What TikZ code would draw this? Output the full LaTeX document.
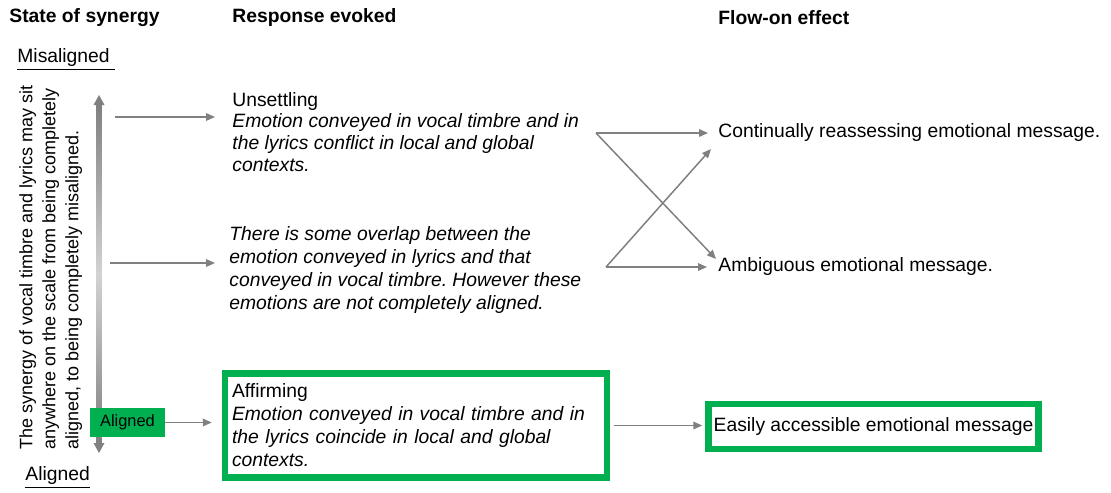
\documentclass[tikz,border=0pt]{standalone}
\usepackage{fontspec}
\setmainfont{Liberation Sans}
\frenchspacing
\definecolor{synergygreen}{RGB}{0, 176, 80}
\definecolor{arrowgray}{RGB}{128, 128, 128}
\usetikzlibrary{
  arrows.meta,
  calc,
  positioning,
}
\tikzset{
  >={Triangle[length=4.5pt,width=3.8pt]},
  link/.style={draw=arrowgray, line width=0.75pt, ->},
  txt/.style={inner sep=0, font=\fontsize{9.65}{10.8}\selectfont},
  head/.style={inner sep=0, font=\fontsize{9.65}{11}\selectfont\bfseries},
  greenbox/.style={draw=synergygreen, line width=3.25pt, font=\fontsize{9.65}{11.5}\selectfont},
}

\begin{document}
\begin{tikzpicture}[x=0.5pt, y=-0.5pt]
  \useasboundingbox (0,0) rectangle (1111,492);

  % column headings
  \node[head, anchor=west] (hstate) at (9,18) {State of synergy};
  \node[head, anchor=west] (hresp)  at (232,18) {Response evoked};
  \node[head, anchor=west] (hflow)  at (718,18) {Flow-on effect};

  % scale
  \node[txt, anchor=west] (misal) at (17,60) {\underline{Misaligned\ }};
  \node[txt, anchor=west] (alig)  at (25,478) {\underline{Aligned}};
  \node[txt, rotate=90, anchor=north west, align=left, font=\fontsize{9}{11.5}\selectfont] (synergy) at (19,450)
    {The synergy of vocal timbre and lyrics may sit\\anywhere on the scale from being completely\\aligned, to being completely misaligned.};

  \coordinate (scaletop) at (99,95);
  \coordinate (scalebot) at (99,453);
  \shade[top color=arrowgray, bottom color=arrowgray, middle color=arrowgray!35]
    ($(scaletop)+(-2.5,9)$) rectangle ($(scalebot)+(2.5,-9)$);
  \fill[arrowgray] (scaletop) -- ++(-5.5,10) -- ++(11,0) -- cycle;
  \fill[arrowgray] (scalebot) -- ++(-5.5,-10) -- ++(11,0) -- cycle;

  \node[fill=synergygreen, minimum width=37.5pt, minimum height=14.5pt, inner sep=0, font=\fontsize{8.2}{10}\selectfont] (alignbox) at (127.5,422.5) {Aligned};

  % responses
  \node[txt, anchor=north west, align=left] (unsettle) at (232,92)
    {Unsettling\\\textit{Emotion conveyed in vocal timbre and in}\\\textit{the lyrics conflict in local and global}\\\textit{contexts.}};
  \node[txt, anchor=north west, align=left, font=\fontsize{9.65}{11.5}\selectfont\itshape] (overlap) at (229,226)
    {There is some overlap between the\\emotion conveyed in lyrics and that\\conveyed in vocal timbre. However these\\emotions are not completely aligned.};
  \node[greenbox, minimum width=191pt, minimum height=52pt, inner xsep=3.5pt, text width=184pt, align=left] (affirm) at (416,425.5)
    {Affirming\\\textit{Emotion conveyed in vocal timbre and in}\\\textit{the lyrics coincide in local and global}\\\textit{contexts.}};

  % flow-on effects
  \node[txt, anchor=west] (cont)  at (718,133) {Continually reassessing emotional message.};
  \node[txt, anchor=west] (ambig) at (718,267) {Ambiguous emotional message.};
  \node[greenbox, minimum width=165pt, minimum height=22.5pt, inner sep=0] (easy) at (873.5,426.5) {Easily accessible emotional message};

  % connectors
  \coordinate (bartop) at (115,117);
  \coordinate (barmid) at (110,263);
  \coordinate (unsend) at (596,133);
  \coordinate (ovlend) at (606,267);
  \draw[link, shorten >=8.5pt] (bartop) -- (bartop -| unsettle.west);
  \draw[link, shorten >=7pt] (barmid) -- (barmid -| overlap.west);
  \draw[link, shorten >=5pt] (alignbox.east) -- (alignbox.east -| affirm.west);
  \draw[link, shorten >=5pt] (unsend) -- (unsend -| cont.west);
  \draw[link] (unsend) -- ($(ambig.west)+(-2,-8)$);
  \draw[link, shorten >=5.5pt] (ovlend) -- (ovlend -| ambig.west);
  \draw[link] (ovlend) -- ($(cont.west)+(-7,16)$);
  \draw[link, shorten <=2pt, shorten >=1.5pt] (affirm.east) -- (affirm.east -| easy.west);
\end{tikzpicture}
\end{document}
